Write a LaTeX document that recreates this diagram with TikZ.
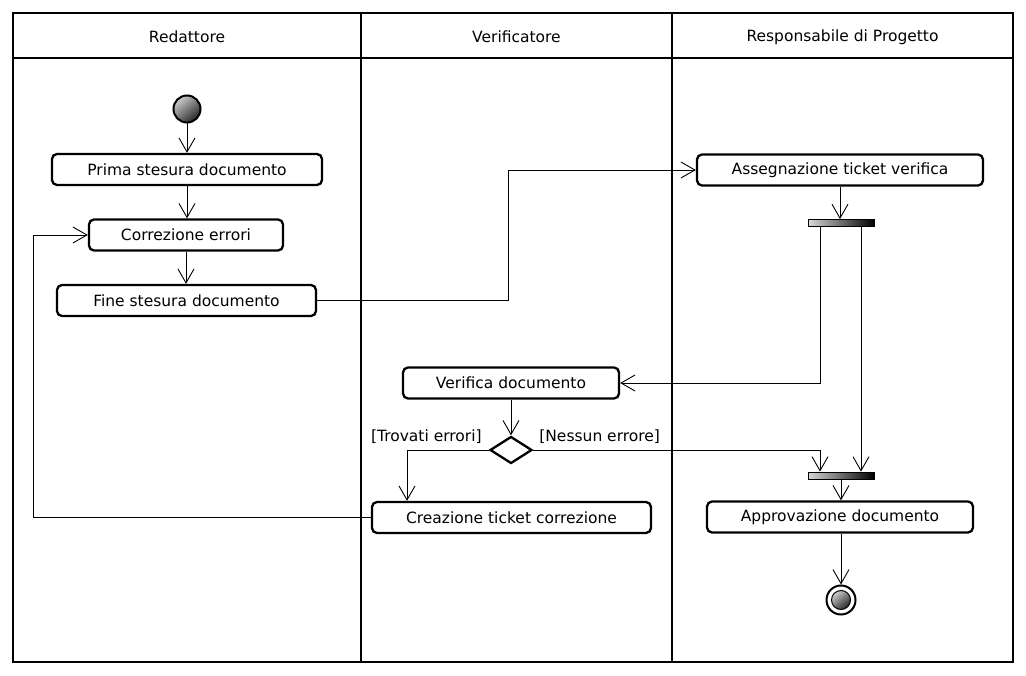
\documentclass[tikz,border=0pt]{standalone}
\usepackage{fontspec}
\setmainfont{DejaVu Sans}
\usetikzlibrary{shapes.geometric,arrows.meta}
\begin{document}
\begin{tikzpicture}[x=1pt,y=-1pt,
  every node/.style={font=\fontsize{15.5pt}{18pt}\selectfont},
  act/.style={draw, rounded corners=5pt, line width=2.3pt, fill=white, inner sep=0pt, minimum height=31pt},
  hdr/.style={inner sep=0pt},
  lbl/.style={inner sep=0pt},
  arr/.style={line width=0.9pt, -{Straight Barb[length=14pt,width=16pt,line width=0.9pt]}},
  con/.style={line width=0.9pt},
  bar/.style={draw, line width=0.8pt, left color=black!15, right color=black, inner sep=0pt, minimum width=66pt, minimum height=7pt},
  dec/.style={draw, diamond, line width=2.3pt, fill=white, inner sep=0pt, minimum width=42pt, minimum height=27pt}
]
\useasboundingbox (0,0) rectangle (1026,676);
% frame and lanes
\draw[line width=2.8pt] (13,13) rectangle (1013,662);
\draw[line width=2.8pt] (13,58) -- (1013,58);
\draw[line width=2.8pt] (361,13) -- (361,662);
\draw[line width=2.8pt] (672,13) -- (672,662);
\node[hdr] (h1) at (187,37) {Redattore};
\node[hdr] (h2) at (516.5,37) {Verificatore};
\node[hdr] (h3) at (842.5,37) {Responsabile di Progetto};

% start
\node[circle, draw, line width=2pt, inner sep=0pt, minimum size=27pt, top color=black!20, bottom color=black!85, shading angle=40] (start) at (187,109) {};

% activities
\node[act, minimum width=270pt] (prima) at (187,169.5) {Prima stesura documento};
\node[act, minimum width=194pt] (corr) at (186,235) {Correzione errori};
\node[act, minimum width=259pt] (fine) at (186.5,300.5) {Fine stesura documento};
\node[act, minimum width=286pt] (asseg) at (840,170) {Assegnazione ticket verifica};
\node[bar] (fork) at (841,223) {};
\node[act, minimum width=216pt] (verif) at (511,383) {Verifica documento};
\node[dec] (dec) at (511,450) {};
\node[act, minimum width=279pt] (crea) at (511.5,517.5) {Creazione ticket correzione};
\node[bar] (join) at (841,475.5) {};
\node[act, minimum width=266pt] (appr) at (840,517) {Approvazione documento};

% end
\node[circle, draw, line width=2pt, fill=white, inner sep=0pt, minimum size=29pt] (end) at (841,600) {};
\node[circle, draw, line width=1pt, inner sep=0pt, minimum size=19pt, top color=black!20, bottom color=black!85, shading angle=40] (endin) at (end) {};

% labels
\node[lbl, anchor=east] (lt) at ([shift={(-7,-13)}]dec.west) {[Trovati errori]};
\node[lbl, anchor=west] (ln) at ([shift={(6,-13)}]dec.east) {[Nessun errore]};

% helper coordinates
\coordinate (k1) at (508,0);
\coordinate (f1) at (820,0);
\coordinate (f2) at (861,0);
\coordinate (b1) at (407,0);
\coordinate (b0) at (33,0);

% connectors
\draw[arr] (start) -- (prima.north -| start);
\draw[arr] (prima.south) -- (prima.south |- corr.north);
\draw[arr] (corr.south) -- (corr.south |- fine.north);
\draw[arr] (fine.east) -- (fine.east -| k1) -- (k1 |- asseg.west) -- (asseg.west);
\draw[arr] (asseg.south) -- (asseg.south |- fork.north);
\draw[arr] (fork.south -| f1) -- (f1 |- verif.east) -- (verif.east);
\draw[arr] (fork.south -| f2) -- (join.north -| f2);
\draw[arr] (verif.south) -- (dec.north);
\draw[arr] (dec.west) -- (dec.west -| b1) -- (b1 |- crea.north);
\draw[arr] (dec.east) -- (dec.east -| f1) -- (f1 |- join.north);
\draw[arr] (join.south) -- (join.south |- appr.north);
\draw[arr] (appr.south -| end) -- (end.north);
\draw[arr] (crea.west) -- (crea.west -| b0) -- (b0 |- corr.west) -- (corr.west);
\end{tikzpicture}
\end{document}
